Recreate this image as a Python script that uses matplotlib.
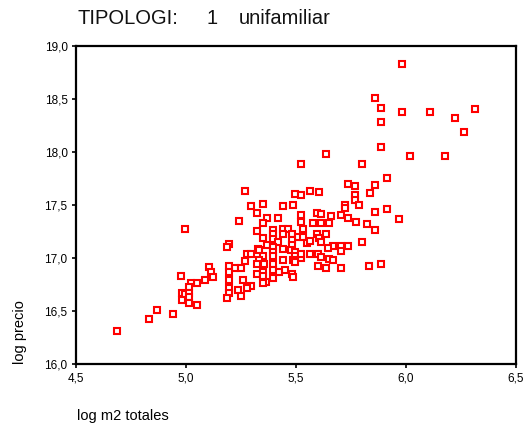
import matplotlib
matplotlib.use("Agg")
import matplotlib.pyplot as plt
from matplotlib.ticker import FuncFormatter

plt.rcParams['font.family'] = ['Liberation Sans', 'DejaVu Sans']

title_parts = ["TIPOLOGI:", "1", "unifamiliar"]
x_label = "log m2 totales"
y_label = "log precio"

x_ticks = [4.5, 5.0, 5.5, 6.0, 6.5]
y_ticks = [16.0, 16.5, 17.0, 17.5, 18.0, 18.5, 19.0]

log_m2 = [
    5.983, 5.860, 5.888, 5.983, 6.110, 6.315, 6.224, 5.888, 6.264, 5.888,
    5.638, 6.020, 6.179, 5.524, 5.801, 5.915, 5.738, 5.770, 5.860, 5.565,
    5.606, 5.497, 5.524, 5.770, 5.770, 5.838, 5.485, 5.724, 5.724, 5.788,
    5.268, 5.295, 5.350, 5.442, 5.915, 5.860, 5.970, 5.324, 5.241, 5.370,
    5.418, 5.523, 5.351, 5.523, 5.323, 5.395, 5.441, 5.462, 5.395, 5.441,
    5.482, 5.530, 5.508, 5.530, 5.351, 5.395, 5.420, 5.370, 5.482, 5.482,
    5.550, 5.197, 5.188, 5.329, 5.395, 5.442, 5.597, 5.615, 5.660, 5.706,
    5.738, 5.774, 5.824, 5.579, 5.615, 5.651, 5.860, 5.597, 5.638, 5.606,
    5.565, 5.615, 5.670, 5.706, 5.738, 5.799, 4.995, 5.277, 5.295, 5.333,
    5.397, 5.479, 5.497, 5.351, 5.397, 5.497, 5.524, 5.524, 5.270, 5.333,
    5.442, 5.488, 5.197, 5.224, 5.251, 5.324, 5.356, 5.397, 5.497, 5.397,
    5.424, 5.451, 5.197, 5.324, 5.351, 5.351, 5.483, 5.485, 5.397, 5.365,
    5.197, 5.260, 5.351, 5.297, 5.279, 5.197, 5.238, 5.197, 5.251, 5.188,
    5.565, 5.601, 5.615, 5.651, 5.670, 5.601, 5.638, 5.706, 5.833, 5.888,
    5.706, 5.645, 4.979, 5.106, 5.114, 5.124, 5.088, 5.051, 5.024, 5.015,
    4.980, 4.994, 5.015, 5.015, 4.980, 5.015, 5.051, 4.870, 4.942, 4.832,
    4.686,
]

log_precio = [
    18.827, 18.507, 18.418, 18.375, 18.375, 18.403, 18.318, 18.280, 18.186, 18.044,
    17.984, 17.959, 17.959, 17.884, 17.884, 17.752, 17.701, 17.676, 17.686, 17.635,
    17.625, 17.601, 17.592, 17.594, 17.547, 17.616, 17.503, 17.503, 17.469, 17.503,
    17.635, 17.488, 17.507, 17.488, 17.459, 17.431, 17.371, 17.422, 17.346, 17.375,
    17.375, 17.403, 17.327, 17.337, 17.252, 17.261, 17.276, 17.276, 17.224, 17.224,
    17.224, 17.276, 17.195, 17.195, 17.186, 17.176, 17.148, 17.120, 17.170, 17.120,
    17.139, 17.132, 17.101, 17.082, 17.101, 17.082, 17.422, 17.412, 17.393, 17.403,
    17.375, 17.337, 17.318, 17.327, 17.327, 17.327, 17.261, 17.224, 17.224, 17.186,
    17.158, 17.148, 17.110, 17.110, 17.110, 17.148, 17.276, 17.035, 17.035, 17.073,
    17.054, 17.073, 17.054, 17.016, 17.016, 17.016, 16.997, 17.035, 16.969, 16.978,
    16.978, 16.978, 16.922, 16.903, 16.903, 16.941, 16.941, 16.941, 16.959, 16.884,
    16.865, 16.884, 16.865, 16.846, 16.865, 16.827, 16.846, 16.818, 16.808, 16.771,
    16.790, 16.790, 16.761, 16.733, 16.714, 16.714, 16.695, 16.667, 16.639, 16.620,
    17.035, 17.035, 17.012, 16.988, 16.978, 16.922, 16.903, 16.903, 16.922, 16.941,
    17.063, 17.097, 16.833, 16.912, 16.865, 16.824, 16.790, 16.761, 16.761, 16.729,
    16.667, 16.658, 16.673, 16.629, 16.601, 16.578, 16.559, 16.507, 16.469, 16.427,
    16.314,
]

fig = plt.figure(figsize=(5.24, 4.28), dpi=100)
ax = fig.add_axes([76 / 524, 1 - 364 / 428, 440 / 524, 318 / 428])

ax.plot(log_m2, log_precio, linestyle='none', marker='s', markersize=3.8,
        markerfacecolor='white', markeredgecolor='#ff0000', markeredgewidth=1.5,
        clip_on=False)

ax.set_xlim(x_ticks[0], x_ticks[-1])
ax.set_ylim(y_ticks[0], y_ticks[-1])
ax.set_xticks(x_ticks)
ax.set_yticks(y_ticks)
fmt = FuncFormatter(lambda v, p: f"{v:.1f}".replace('.', ','))
ax.xaxis.set_major_formatter(fmt)
ax.yaxis.set_major_formatter(fmt)
ax.tick_params(axis='both', direction='out', length=3, width=1.2,
               labelsize=8.5, colors='black', pad=3)
ax.tick_params(axis='x', pad=3)
for s in ax.spines.values():
    s.set_linewidth(1.6)
    s.set_color('black')

title_x = [77, 207, 239]
for part, px in zip(title_parts, title_x):
    fig.text(px / 524, 1 - 19 / 428, part, fontsize=14.5, ha='left', va='center',
             color='#111111')
fig.text(77 / 524, 1 - 416 / 428, x_label, fontsize=10.5, ha='left', va='center')
fig.text(20 / 524, 1 - 364 / 428, y_label, fontsize=10.5, rotation=90,
         ha='center', va='bottom')

fig.savefig("out.png", dpi=100)
